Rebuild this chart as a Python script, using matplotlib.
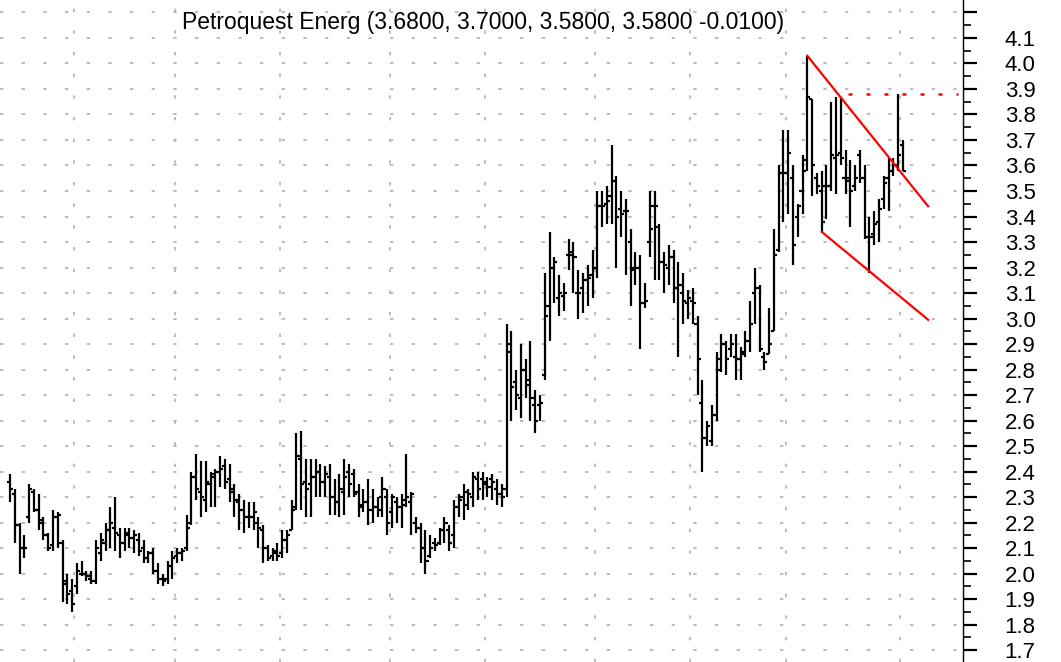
import numpy as np
import matplotlib.pyplot as plt
from matplotlib.ticker import MultipleLocator, FuncFormatter

plt.rcParams['font.family'] = ['Liberation Sans', 'DejaVu Sans']

title = 'Petroquest Energ (3.6800, 3.7000, 3.5800, 3.5800 -0.0100)'

# daily OHLC
opens = [
    2.36, 2.31, 2.19, 2.10, 2.22, 2.32, 2.25, 2.20, 2.15, 2.11,
    2.22, 2.12, 1.96, 1.93, 1.95, 2.00, 2.00, 1.98, 1.97, 2.08,
    2.12, 2.17, 2.18, 2.15, 2.12, 2.15, 2.14, 2.13, 2.10, 2.06,
    2.08, 2.01, 1.98, 1.98, 2.03, 2.07, 2.08, 2.10, 2.20, 2.38,
    2.32, 2.29, 2.35, 2.38, 2.40, 2.42, 2.37, 2.32, 2.28, 2.25,
    2.22, 2.22, 2.20, 2.17, 2.10, 2.07, 2.08, 2.08, 2.13, 2.17,
    2.26, 2.45, 2.36, 2.35, 2.38, 2.40, 2.36, 2.38, 2.30, 2.28,
    2.32, 2.40, 2.39, 2.32, 2.27, 2.28, 2.25, 2.26, 2.30, 2.30,
    2.24, 2.28, 2.26, 2.29, 2.28, 2.20, 2.18, 2.10, 2.07, 2.12,
    2.12, 2.17, 2.17, 2.15, 2.26, 2.30, 2.27, 2.30, 2.37, 2.37,
    2.36, 2.37, 2.33, 2.31, 2.33, 2.90, 2.75, 2.69, 2.80, 2.76,
    2.66, 2.66, 2.78, 3.05, 3.20, 3.08, 3.09, 3.25, 3.26, 3.10,
    3.12, 3.15, 3.17, 3.20, 3.44, 3.45, 3.48, 3.54, 3.43, 3.42,
    3.30, 3.20, 3.20, 3.06, 3.30, 3.44, 3.36, 3.22, 3.20, 3.24,
    3.12, 3.10, 3.06, 3.07, 2.98, 2.67, 2.53, 2.52, 2.62, 2.84,
    2.90, 2.88, 2.85, 2.84, 2.87, 2.91, 3.10, 3.12, 2.85, 2.86,
    2.95, 3.27, 3.57, 3.57, 3.55, 3.40, 3.50, 3.62, 3.86, 3.55,
    3.50, 3.52, 3.52, 3.63, 3.65, 3.55, 3.55, 3.52, 3.64, 3.55,
    3.32, 3.33, 3.38, 3.47, 3.55, 3.58, 3.60, 3.68,
]
highs = [
    2.39, 2.33, 2.20, 2.15, 2.35, 2.33, 2.31, 2.22, 2.16, 2.25,
    2.24, 2.13, 2.00, 1.98, 2.04, 2.05, 2.01, 2.01, 2.13, 2.16,
    2.20, 2.26, 2.30, 2.18, 2.18, 2.18, 2.17, 2.16, 2.13, 2.09,
    2.10, 2.04, 2.00, 2.05, 2.09, 2.10, 2.10, 2.23, 2.40, 2.47,
    2.44, 2.44, 2.40, 2.41, 2.46, 2.45, 2.43, 2.35, 2.31, 2.29,
    2.28, 2.28, 2.22, 2.19, 2.11, 2.10, 2.12, 2.17, 2.17, 2.29,
    2.55, 2.56, 2.45, 2.45, 2.45, 2.43, 2.42, 2.43, 2.37, 2.39,
    2.45, 2.43, 2.41, 2.35, 2.33, 2.37, 2.33, 2.30, 2.38, 2.33,
    2.31, 2.30, 2.31, 2.47, 2.32, 2.22, 2.20, 2.17, 2.15, 2.14,
    2.18, 2.22, 2.19, 2.29, 2.31, 2.35, 2.33, 2.40, 2.40, 2.40,
    2.38, 2.39, 2.37, 2.35, 2.98, 2.95, 2.80, 2.90, 2.84, 2.91,
    2.72, 2.70, 3.18, 3.34, 3.24, 3.17, 3.14, 3.31, 3.30, 3.19,
    3.18, 3.21, 3.27, 3.50, 3.50, 3.52, 3.68, 3.56, 3.50, 3.47,
    3.35, 3.26, 3.25, 3.14, 3.50, 3.50, 3.37, 3.26, 3.29, 3.27,
    3.22, 3.18, 3.11, 3.12, 3.01, 2.76, 2.60, 2.66, 2.87, 2.94,
    2.91, 2.94, 2.94, 2.89, 2.95, 3.07, 3.20, 3.13, 2.87, 3.04,
    3.35, 3.60, 3.74, 3.74, 3.60, 3.45, 3.64, 4.03, 3.86, 3.57,
    3.58, 3.60, 3.85, 3.87, 3.87, 3.66, 3.62, 3.60, 3.66, 3.60,
    3.40, 3.42, 3.47, 3.56, 3.63, 3.63, 3.88, 3.70,
]
lows = [
    2.28, 2.12, 2.00, 2.06, 2.20, 2.24, 2.17, 2.13, 2.09, 2.09,
    2.10, 1.89, 1.88, 1.85, 1.92, 1.99, 1.97, 1.96, 1.96, 2.05,
    2.09, 2.10, 2.09, 2.06, 2.09, 2.10, 2.08, 2.07, 2.04, 2.04,
    2.00, 1.96, 1.95, 1.96, 1.98, 2.04, 2.05, 2.09, 2.19, 2.29,
    2.22, 2.24, 2.26, 2.26, 2.34, 2.33, 2.28, 2.22, 2.17, 2.16,
    2.18, 2.17, 2.10, 2.04, 2.05, 2.05, 2.05, 2.06, 2.08, 2.17,
    2.25, 2.25, 2.22, 2.22, 2.30, 2.30, 2.30, 2.23, 2.23, 2.22,
    2.23, 2.30, 2.30, 2.22, 2.24, 2.19, 2.20, 2.22, 2.22, 2.15,
    2.18, 2.20, 2.18, 2.26, 2.15, 2.16, 2.04, 2.00, 2.06, 2.09,
    2.11, 2.12, 2.09, 2.10, 2.22, 2.21, 2.25, 2.26, 2.29, 2.29,
    2.30, 2.29, 2.27, 2.26, 2.30, 2.60, 2.64, 2.61, 2.69, 2.60,
    2.55, 2.60, 2.76, 2.91, 3.06, 3.01, 3.03, 3.19, 3.10, 3.00,
    3.02, 3.05, 3.08, 3.16, 3.36, 3.37, 3.37, 3.20, 3.32, 3.17,
    3.05, 3.13, 2.88, 3.04, 3.24, 3.15, 3.15, 3.10, 3.13, 3.06,
    2.85, 2.98, 3.00, 2.98, 2.70, 2.40, 2.50, 2.50, 2.60, 2.79,
    2.78, 2.85, 2.76, 2.76, 2.85, 2.87, 2.98, 2.87, 2.80, 2.86,
    2.95, 3.26, 3.38, 3.41, 3.21, 3.32, 3.41, 3.58, 3.48, 3.49,
    3.34, 3.39, 3.50, 3.49, 3.60, 3.49, 3.36, 3.50, 3.53, 3.31,
    3.18, 3.29, 3.30, 3.43, 3.42, 3.56, 3.58, 3.58,
]
closes = [
    2.33, 2.19, 2.10, 2.10, 2.33, 2.25, 2.21, 2.15, 2.10, 2.22,
    2.23, 1.97, 1.92, 1.88, 2.01, 2.00, 1.99, 1.97, 2.10, 2.13,
    2.17, 2.20, 2.16, 2.12, 2.16, 2.14, 2.15, 2.09, 2.06, 2.08,
    2.01, 1.98, 1.97, 2.03, 2.06, 2.08, 2.09, 2.18, 2.38, 2.33,
    2.30, 2.36, 2.39, 2.40, 2.41, 2.36, 2.33, 2.29, 2.25, 2.22,
    2.22, 2.24, 2.18, 2.10, 2.06, 2.09, 2.07, 2.13, 2.15, 2.25,
    2.46, 2.35, 2.33, 2.38, 2.40, 2.36, 2.39, 2.30, 2.28, 2.33,
    2.38, 2.35, 2.31, 2.26, 2.28, 2.25, 2.26, 2.25, 2.33, 2.20,
    2.30, 2.26, 2.27, 2.30, 2.31, 2.18, 2.10, 2.05, 2.10, 2.11,
    2.17, 2.20, 2.12, 2.26, 2.29, 2.32, 2.31, 2.38, 2.33, 2.35,
    2.34, 2.36, 2.31, 2.30, 2.87, 2.73, 2.70, 2.80, 2.74, 2.69,
    2.60, 2.67, 3.01, 3.20, 3.22, 3.10, 3.10, 3.25, 3.24, 3.10,
    3.15, 3.16, 3.20, 3.44, 3.44, 3.46, 3.54, 3.40, 3.41, 3.42,
    3.19, 3.20, 3.06, 3.07, 3.35, 3.44, 3.22, 3.21, 3.24, 3.12,
    3.13, 3.07, 3.08, 3.06, 2.84, 2.53, 2.58, 2.62, 2.80, 2.90,
    2.84, 2.90, 2.84, 2.86, 2.91, 2.98, 3.12, 2.88, 2.83, 2.90,
    3.25, 3.57, 3.57, 3.65, 3.29, 3.44, 3.58, 3.87, 3.60, 3.52,
    3.38, 3.52, 3.64, 3.64, 3.63, 3.54, 3.50, 3.55, 3.55, 3.32,
    3.32, 3.37, 3.43, 3.53, 3.58, 3.60, 3.64, 3.58,
]

# first bar of each month (vertical grid goes just before it)
month_starts = [14, 35, 57, 80, 100, 123, 143, 163, 187]

# trend lines drawn on the chart (bar index, price)
upper_x = [167, 192.3]
upper_y = [4.03, 3.44]
lower_x = [170, 192.3]
lower_y = [3.34, 2.995]
resist_x = [175.5, 198.5]
resist_y = [3.88, 3.88]

n = len(closes)
x = np.arange(n)

fig = plt.figure(figsize=(10.61, 6.62), dpi=100)
ax = fig.add_axes([0, 0, 963 / 1061, 1])

grid_style = dict(color='#b0b0b0', linestyle=(0, (2, 11)), linewidth=1.2)
ax.yaxis.grid(True, which='major', **grid_style)
for m in month_starts:
    ax.axvline(m - 0.5, **grid_style)

# OHLC bars
ax.vlines(x, lows, highs, color='black', linewidth=1.6)
ax.hlines(opens, x - 0.65, x, color='black', linewidth=1.6)
ax.hlines(closes, x, x + 0.65, color='black', linewidth=1.6)

ax.plot(upper_x, upper_y, color='red', linewidth=1.6)
ax.plot(lower_x, lower_y, color='red', linewidth=1.6)
ax.plot(resist_x, resist_y, color='red', linewidth=1.8,
        linestyle=(0, (1.6, 5.6)), clip_on=False)

ax.set_xlim(-2.1, 199.6)
ax.set_ylim(1.653, 4.249)

ax.yaxis.set_major_locator(MultipleLocator(0.1))
ax.yaxis.set_minor_locator(MultipleLocator(0.05))
ax.yaxis.set_major_formatter(FuncFormatter(lambda v, pos: '' if v > 4.15 else f'{v:.1f}'))
ax.yaxis.tick_right()
ax.tick_params(axis='y', which='major', direction='out', length=10, width=1.6,
               pad=20, labelsize=16)
ax.tick_params(axis='y', which='minor', direction='out', length=5.5, width=1.2)
ax.set_xticks([])

for side in ['top', 'left', 'bottom']:
    ax.spines[side].set_visible(False)
ax.spines['right'].set_linewidth(1.0)

ax.text(0.5015, 0.966, title, transform=ax.transAxes, ha='center', va='center',
        fontsize=16.5)

fig.savefig('out.png', dpi=100)
